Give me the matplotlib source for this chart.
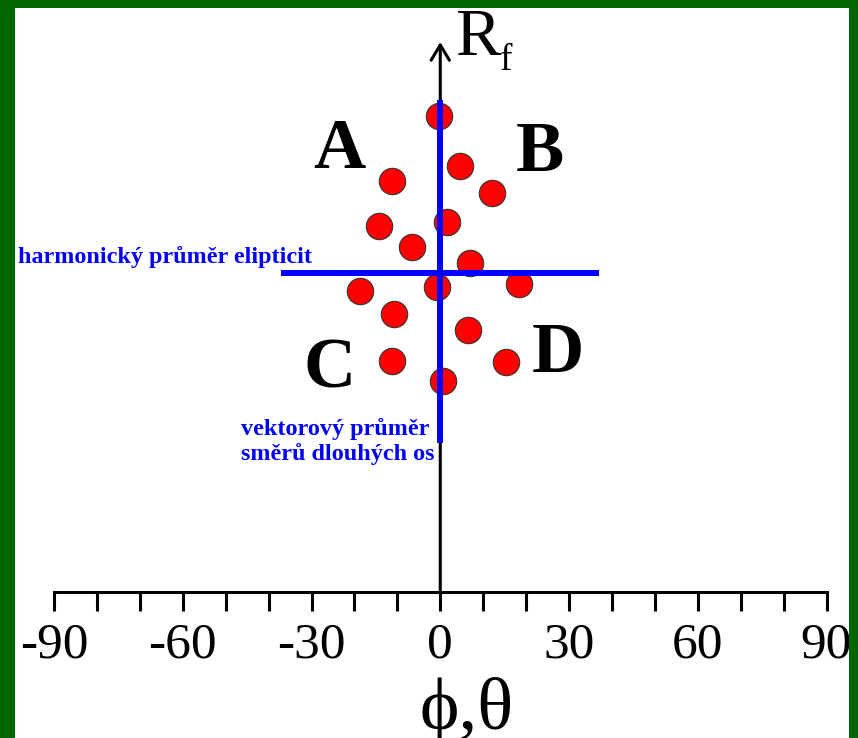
import numpy as np
import matplotlib.pyplot as plt

plt.rcParams['font.family'] = ['Liberation Serif', 'DejaVu Serif']
plt.rcParams['axes.unicode_minus'] = False

# orientace dlouhých os (phi, stupně) a poměr os elips (Rf)
phi = [-0.2, 4.6, -11.2, 12.0, 1.5, -14.3, -6.7, 6.9,
       -0.7, -18.7, 18.4, -10.7, 6.4, -11.2, 15.3, 0.6]
rf = [10.52, 9.53, 9.21, 8.99, 8.41, 8.32, 7.91, 7.59,
      7.11, 7.03, 7.17, 6.57, 6.24, 5.62, 5.61, 5.23]

rf_harm = 7.39          # harmonický průměr elipticit
harm_span = [-37, 37]
phi_vec = 0.0           # vektorový průměr směrů
vec_span = [3.99, 10.85]

xticks_major = [-90, -60, -30, 0, 30, 60, 90]
xticks_minor = np.arange(-90, 91, 10)

quadrants = ['A', 'B', 'C', 'D']
quad_x = [-23.6, 23.1, -25.8, 27.3]
quad_y = [9.48, 9.42, 5.1, 5.4]

fig = plt.figure(figsize=(8.58, 7.38), dpi=100, facecolor='#006600')
ax = fig.add_axes([15 / 858, 0, 834 / 858, 730 / 738])
ax.set_facecolor('white')
ax.set_xlim(-99.09, 95.24)
ax.set_ylim(-1.92, 12.68)

for s in ['top', 'right', 'left']:
    ax.spines[s].set_visible(False)
ax.spines['bottom'].set_position(('data', 1))
ax.spines['bottom'].set_bounds(-90, 90)
ax.spines['bottom'].set_linewidth(2.2)

ax.set_xticks(xticks_major)
ax.set_xticks(xticks_minor, minor=True)
ax.set_xticklabels([str(t) for t in xticks_major])
ax.tick_params(axis='x', which='both', direction='out', length=13.7, width=2.2)
ax.tick_params(axis='x', which='major', labelsize=37, pad=8)
ax.set_yticks([])
for lbl in ax.get_xticklabels():
    lbl.set_clip_path(ax.patch)

# osa Rf se šipkou
ax.annotate('', xy=(0, 12.0), xytext=(0, 1),
            arrowprops=dict(arrowstyle='->,head_length=0.55,head_width=0.33',
                            lw=2.2, color='black', shrinkA=0, shrinkB=0,
                            mutation_scale=20))
ax.text(3.44, 11.74, 'R', fontsize=49, ha='left', va='baseline')
ax.text(14.0, 11.44, 'f', fontsize=27, ha='left', va='baseline')
ax.text(6.1, -1.74, 'ϕ,θ', fontsize=54, ha='center', va='baseline')

ax.plot(phi, rf, 'o', ms=19, mfc='red', mec='#333333', mew=0.8, zorder=3)

ax.plot(harm_span, [rf_harm, rf_harm], color='blue', lw=4.3,
        solid_capstyle='butt', zorder=4)
ax.plot([phi_vec, phi_vec], vec_span, color='blue', lw=4.3,
        solid_capstyle='butt', zorder=4)

for q, x, y in zip(quadrants, quad_x, quad_y):
    ax.text(x, y, q, fontsize=52, fontweight='bold', ha='center', va='baseline')

ax.text(-98.4, 7.57, 'harmonický průměr elipticit', color='blue',
        fontsize=17.4, fontweight='bold', ha='left', va='baseline')
ax.text(-46.4, 4.14, 'vektorový průměr', color='blue',
        fontsize=17.4, fontweight='bold', ha='left', va='baseline')
ax.text(-46.4, 3.64, 'směrů dlouhých os', color='blue',
        fontsize=17.4, fontweight='bold', ha='left', va='baseline')

fig.savefig('out.png', dpi=100, facecolor=fig.get_facecolor())
